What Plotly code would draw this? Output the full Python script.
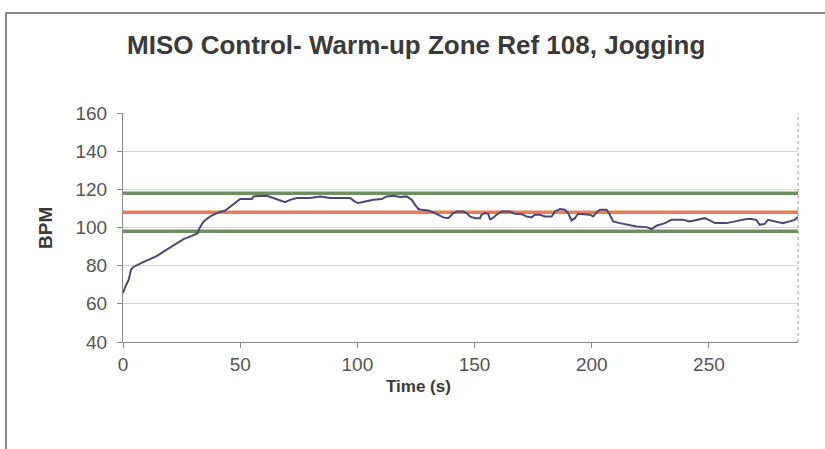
import plotly.graph_objects as go

# Heart-rate trace (time in seconds, beats per minute)
time_s = [0, 1, 2.4, 3.4, 4.3, 6, 8.8, 11.6, 14.5, 17.3, 20.2, 23, 25.8, 29.4, 31.8,
          32.7, 34.4, 37.2, 40.8, 43.6, 45.7, 47.9, 50, 55, 55.7, 61.4, 64.2, 67,
          69.2, 71.3, 74.2, 79.8, 84.1, 88.4, 96.9, 99, 100.4, 103.3, 106.8, 110.4,
          112.5, 115.3, 118.2, 121, 123.2, 124.6, 126, 127.4, 130.3, 132.4, 135.3,
          136.7, 138.8, 140.9, 142.4, 145.2, 146.6, 148, 150.2, 152.3, 153, 154.4,
          155.8, 156.6, 157.7, 159.4, 161.6, 165.1, 167.2, 170.1, 172.2, 174.3,
          175.7, 177.9, 180, 182.9, 184.3, 186.4, 188.5, 189.9, 191.4, 192.8, 194.2,
          199.2, 200.6, 202, 203.5, 206.3, 207.7, 209.1, 212, 216.3, 219.1, 223.4,
          225.5, 227.6, 231.2, 234, 239, 241.8, 245.4, 248.2, 250.4, 252.5, 257.5,
          261, 266, 268.1, 270.2, 271.7, 273.8, 275.2, 278.8, 281.6, 284.4, 286.6, 288]
bpm = [65.6, 69, 72.5, 77.8, 79.2, 80.4, 82, 83.4, 85.1, 87.4, 89.7, 92.1, 93.9, 95.6,
       97, 99.7, 103.2, 105.8, 107.9, 108.9, 111, 113.1, 114.9, 114.9, 116.3, 116.6,
       115.4, 114.2, 113.3, 114.5, 115.4, 115.4, 116.3, 115.4, 115.4, 113.6, 112.8,
       113.6, 114.5, 114.9, 116.3, 116.6, 116, 116.3, 114.5, 111.9, 109.7, 109.3,
       108.9, 107.9, 106.1, 105.3, 104.9, 107.6, 108.4, 108.4, 107.6, 105.8, 104.9,
       104.9, 106.7, 107.6, 107.2, 104.4, 104.9, 106.7, 108.4, 108.4, 107.2, 107,
       105.8, 105.3, 106.7, 106.7, 105.8, 105.8, 108.4, 109.7, 109.3, 107.6, 103.7,
       104.9, 107.2, 106.7, 105.8, 107.9, 109.3, 109.3, 106.7, 103.2, 102.3, 101.4,
       100.5, 100.2, 99.2, 100.9, 102.3, 104, 104, 103.2, 104, 104.9, 103.7, 102.3,
       102.3, 103.2, 104.4, 104.4, 104, 101.4, 101.9, 104, 103.2, 102.3, 103.2, 104,
       105.5]

# Warm-up zone reference and limits
zone_x = [0, 288]
zone_ref = 108
zone_upper = 118
zone_lower = 98

x_ticks = [0, 50, 100, 150, 200, 250]
y_ticks = [40, 60, 80, 100, 120, 140, 160]

W, H = 825, 449
L, R, T, B = 123, 27, 113, 107
PW, PH = W - L - R, H - T - B


def px_x(p):
    return (p - L) / PW


def px_y(p):
    return (H - B - p) / PH


FONT = "Liberation Sans, Arial, sans-serif"

fig = go.Figure()
fig.add_trace(go.Scatter(x=zone_x, y=[zone_upper] * 2, mode="lines",
                         line=dict(color="#6b9160", width=3.5), hoverinfo="skip"))
fig.add_trace(go.Scatter(x=zone_x, y=[zone_lower] * 2, mode="lines",
                         line=dict(color="#6b9160", width=3.5), hoverinfo="skip"))
fig.add_trace(go.Scatter(x=zone_x, y=[zone_ref] * 2, mode="lines",
                         line=dict(color="#ec7a55", width=3.5), hoverinfo="skip"))
fig.add_trace(go.Scatter(x=time_s, y=bpm, mode="lines",
                         line=dict(color="#4a4878", width=2)))

axis_common = dict(showline=True, linecolor="#8a8a8a", linewidth=1,
                   ticks="outside", ticklen=5, tickcolor="#8a8a8a",
                   tickfont=dict(family=FONT, size=19, color="#555555"),
                   zeroline=False)

fig.update_xaxes(range=[0, 288], tickvals=x_ticks, showgrid=False, **axis_common)
fig.update_yaxes(range=[40, 160], tickvals=y_ticks, showgrid=True,
                 gridcolor="#d8d8d8", gridwidth=1, ticklabelstandoff=6, **axis_common)

shapes = [
    # dotted right edge of the plot area
    dict(type="line", xref="paper", yref="paper", x0=1, x1=1, y0=0, y1=1,
         line=dict(color="#9a9a9a", width=1, dash="dot")),
    # outer chart frame
    dict(type="rect", xref="paper", yref="paper",
         x0=px_x(6), x1=px_x(832), y0=px_y(455), y1=px_y(13),
         line=dict(color="#606060", width=1.5)),
]

annotations = [
    dict(text="MISO Control- Warm-up Zone Ref 108, Jogging", xref="paper", yref="paper",
         x=px_x(416), y=px_y(45), showarrow=False, xanchor="center", yanchor="middle",
         font=dict(family=FONT, size=26, color="#3a3a3a", weight="bold")),
    dict(text="BPM", xref="paper", yref="paper", x=px_x(45), y=px_y(228),
         showarrow=False, textangle=-90, xanchor="center", yanchor="middle",
         font=dict(family=FONT, size=19, color="#3a3a3a", weight="bold")),
    dict(text="Time (s)", xref="paper", yref="paper", x=px_x(418), y=px_y(386),
         showarrow=False, xanchor="center", yanchor="middle",
         font=dict(family=FONT, size=17, color="#3a3a3a", weight="bold")),
]

fig.update_layout(width=W, height=H, margin=dict(l=L, r=R, t=T, b=B),
                  paper_bgcolor="white", plot_bgcolor="white", showlegend=False,
                  shapes=shapes, annotations=annotations)

fig.write_html("out.html", config=dict(displayModeBar=False))
